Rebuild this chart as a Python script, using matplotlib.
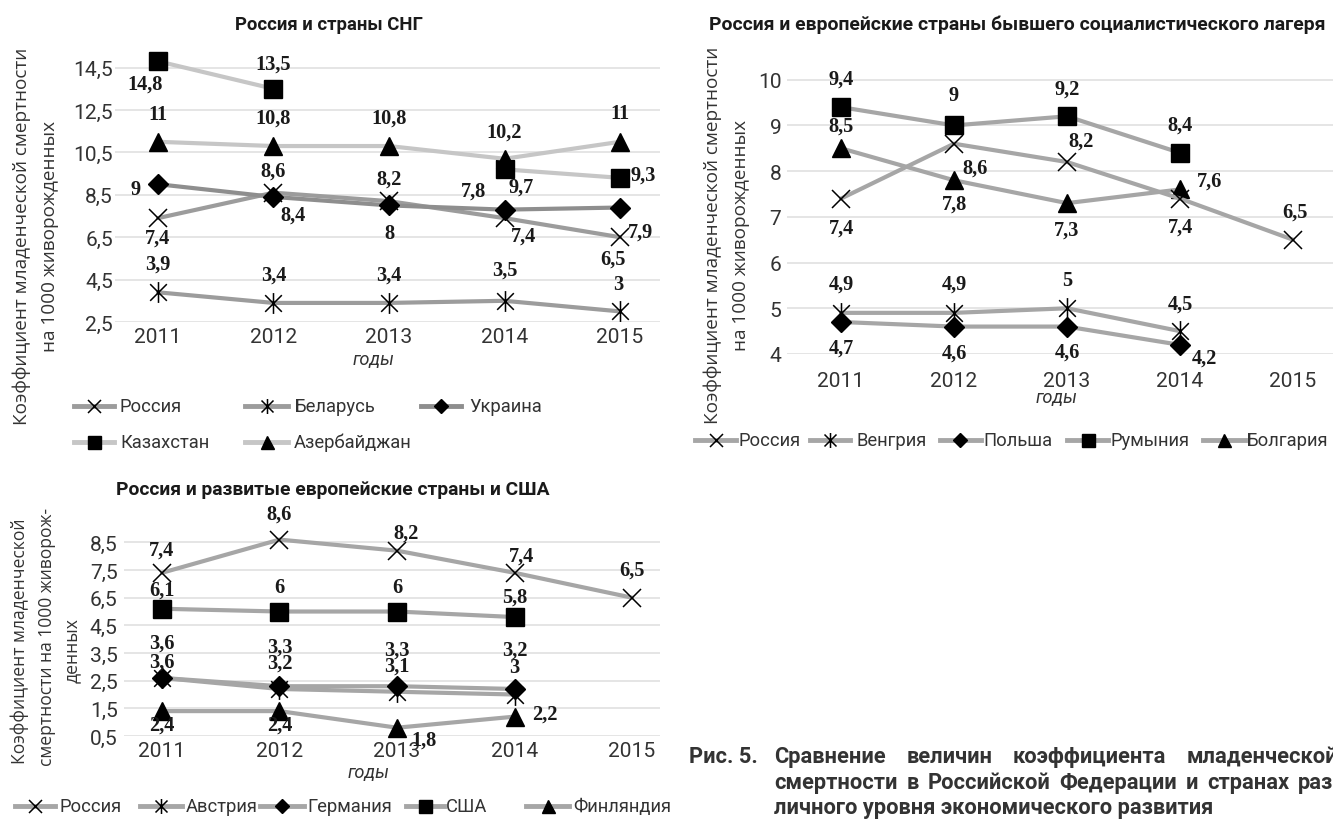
import numpy as np
import matplotlib
matplotlib.use("Agg")
import matplotlib.pyplot as plt
from matplotlib.lines import Line2D
from matplotlib.path import Path
from matplotlib import font_manager as fm

nan = np.nan

# ---------------- data ----------------
years = ['2011', '2012', '2013', '2014', '2015']

# Россия и страны СНГ
cis_russia = [7.4, 8.6, 8.2, 7.4, 6.5]
cis_belarus = [3.9, 3.4, 3.4, 3.5, 3.0]
cis_ukraine = [9.0, 8.4, 8.0, 7.8, 7.9]
cis_kazakhstan = [14.8, 13.5, nan, 9.7, 9.3]
cis_azerbaijan = [11.0, 10.8, 10.8, 10.2, 11.0]

# Россия и европейские страны бывшего социалистического лагеря
ee_russia = [7.4, 8.6, 8.2, 7.4, 6.5]
ee_hungary = [4.9, 4.9, 5.0, 4.5, nan]
ee_poland = [4.7, 4.6, 4.6, 4.2, nan]
ee_romania = [9.4, 9.0, 9.2, 8.4, nan]
ee_bulgaria = [8.5, 7.8, 7.3, 7.6, nan]

# Россия и развитые европейские страны и США
we_russia = [7.4, 8.6, 8.2, 7.4, 6.5]
we_austria = [3.6, 3.2, 3.1, 3.0, nan]
we_germany = [3.6, 3.3, 3.3, 3.2, nan]
we_usa = [6.1, 6.0, 6.0, 5.8, nan]
we_finland = [2.4, 2.4, 1.8, 2.2, nan]

# tick labels of the three value axes
yt1_labels = ['2,5', '4,5', '6,5', '8,5', '10,5', '12,5', '14,5']
yt2_labels = ['4', '5', '6', '7', '8', '9', '10']
yt3_labels = ['0,5', '1,5', '2,5', '3,5', '4,5', '6,5', '7,5', '8,5']

# ---------------- figure & fonts ----------------
W, H = 1333, 820
fig = plt.figure(figsize=(W / 100, H / 100), dpi=100)
fig.patch.set_facecolor('white')


def fam(*names):
    for n in names:
        try:
            fm.findfont(fm.FontProperties(family=n), fallback_to_default=False)
            return n
        except Exception:
            continue
    return 'DejaVu Sans'


SANS = fam('Roboto', 'Open Sans', 'DejaVu Sans')
LABEL_SANS = fam('Open Sans', 'Noto Sans', 'DejaVu Sans')
SERIF = fam('Liberation Serif', 'DejaVu Serif')

renderer = fig.canvas.get_renderer()


def fit_size(s, target, family, weight='normal', style='normal'):
    t = fig.text(0, 0, s, fontsize=10, family=family, weight=weight, style=style)
    w = t.get_window_extent(renderer).width
    t.remove()
    return 10 * target / w


def fx(px):
    return px / W


def fy(py):
    return 1 - py / H


TICK = fit_size('2011', 47, SANS)
LEG = fit_size('Россия', 62, SANS)
DLAB = fit_size('14,8', 35.5, SERIF, 'bold')
XL = fit_size('годы', 42, SANS, style='italic')
YL = fit_size('Коэффициент младенческой смертности', 376, LABEL_SANS)
YL3 = fit_size('Коэффициент младенческой', 245, LABEL_SANS)

# ---------------- markers ----------------
star_path = Path([(-1, -1), (1, 1), (-1, 1), (1, -1), (0, -1.25), (0, 1.25)],
                 [Path.MOVETO, Path.LINETO, Path.MOVETO, Path.LINETO,
                  Path.MOVETO, Path.LINETO])
MK = {
    'x': dict(marker='x', ms=13, mew=1.1),
    'star': dict(marker=star_path, ms=15, mew=1.1),
    'D': dict(marker='D', ms=10.5),
    's': dict(marker='s', ms=13),
    '^': dict(marker='^', ms=13),
}


def mstyle(key, scale=1.0):
    d = dict(MK[key])
    d['ms'] = d['ms'] * scale
    d.update(mfc='black', mec='black')
    return d


def fmt(v):
    return f"{v:g}".replace('.', ',')


def make_axes(box, xlim, ylim, yticks, ylabels, ypad, xpad):
    l, t, r, b = box
    ax = fig.add_axes([fx(l), fy(b), (r - l) / W, (b - t) / H])
    ax.set_xlim(*xlim)
    ax.set_ylim(*ylim)
    for s in ax.spines.values():
        s.set_visible(False)
    ax.set_xticks(range(len(years)))
    ax.set_xticklabels(years)
    ax.set_yticks(yticks)
    ax.set_yticklabels(ylabels)
    ax.tick_params(length=0, labelsize=TICK, labelcolor='#333333')
    ax.tick_params(axis='y', pad=ypad)
    ax.tick_params(axis='x', pad=xpad)
    for lab in ax.get_xticklabels() + ax.get_yticklabels():
        lab.set_family(SANS)
    ax.yaxis.grid(True, color='#e0e0e0', lw=1.2)
    ax.set_axisbelow(True)
    ax.patch.set_alpha(0)
    return ax


def series(ax, vals, key, color, offsets):
    x = np.arange(len(vals))
    y = np.array(vals, dtype=float)
    ax.plot(x, y, color=color, lw=3, solid_capstyle='round', clip_on=False,
            zorder=3, **mstyle(key))
    for i, (v, off) in enumerate(zip(y, offsets)):
        if np.isnan(v) or off is None:
            continue
        ax.annotate(fmt(v), (i, v), xytext=(off[0], -off[1]),
                    textcoords='offset pixels', ha='center', va='center',
                    family=SERIF, weight='bold', fontsize=DLAB,
                    color='#1a1a1a', annotation_clip=False, zorder=5)


def legend_entry(x0, x1, tx, y, key, color, label):
    xs = [fx(x0), fx((x0 + x1) / 2), fx(x1)]
    ln = Line2D(xs, [fy(y)] * 3, transform=fig.transFigure, color=color, lw=3.5,
                markevery=[1], **mstyle(key, 0.72))
    fig.add_artist(ln)
    fig.text(fx(tx), fy(y), label, ha='left', va='center', family=SANS,
             fontsize=LEG, color='#333333')


def ylabel_lines(lines, size):
    for txt, x, y in lines:
        fig.text(fx(x), fy(y), txt, rotation=90, ha='center', va='center',
                 family=LABEL_SANS, fontsize=size, color='#333333')


def title(txt, x, y, width):
    fig.text(fx(x), fy(y), txt, ha='center', va='center', family=SANS,
             weight='bold', fontsize=fit_size(txt, width, SANS, 'bold'),
             color='#1a1a1a')


DARK = '#8e8e8e'
MID = '#9c9c9c'
LIGHT = '#c6c6c6'
GREY = '#a6a6a6'

# ---------------- chart 1: СНГ ----------------
ax1 = make_axes((115, 58, 660, 323), (-0.372, 4.346), (2.5, 15.0),
                [2.5, 4.5, 6.5, 8.5, 10.5, 12.5, 14.5], yt1_labels, 1.5, 3.5)
series(ax1, cis_kazakhstan, 's', LIGHT,
       [(-13, 22), (0, -25), None, (17, 17), (23, -3)])
series(ax1, cis_azerbaijan, '^', LIGHT,
       [(0, -28), (0, -28), (0, -28), (0, -27), (0, -29)])
series(ax1, cis_belarus, 'star', MID,
       [(0, -29), (0, -28), (0, -28), (0, -31), (-2, -27)])
series(ax1, cis_russia, 'x', MID,
       [(0, 19), (0, -22), (0, -23), (19, 17), (-7, 21)])
series(ax1, cis_ukraine, 'D', DARK,
       [(-22, 5), (20, 18), (0, 28), (-31, -19), (20, 24)])

title('Россия и страны СНГ', 329, 25, 188)
fig.text(fx(374), fy(360), 'годы', ha='center', va='center', family=SANS,
         style='italic', fontsize=XL, color='#333333')
ylabel_lines([('Коэффициент младенческой смертности', 22, 236),
              ('на 1000 живорожденных', 50, 236)], YL)
legend_entry(74, 114, 120, 407, 'x', MID, 'Россия')
legend_entry(245, 288, 294, 407, 'star', MID, 'Беларусь')
legend_entry(421, 461, 469, 407, 'D', DARK, 'Украина')
legend_entry(74, 114, 120, 443, 's', LIGHT, 'Казахстан')
legend_entry(245, 288, 294, 443, '^', LIGHT, 'Азербайджан')

# ---------------- chart 2: бывший соцлагерь ----------------
ax2 = make_axes((787, 67, 1333, 355), (-0.478, 4.354), (4.0, 10.3),
                [4, 5, 6, 7, 8, 9, 10], yt2_labels, 4, 12)
series(ax2, ee_romania, 's', GREY, [(0, -29), (0, -30), (0, -28), (0, -28), None])
series(ax2, ee_bulgaria, '^', GREY, [(0, -23), (0, 23), (0, 26), (30, -9), None])
series(ax2, ee_russia, 'x', GREY, [(0, 29), (21, 24), (14, -21), (0, 28), (2, -28)])
series(ax2, ee_hungary, 'star', GREY, [(0, -29), (0, -29), (0, -28), (0, -28), None])
series(ax2, ee_poland, 'D', GREY, [(0, 26), (0, 26), (0, 25), (24, 13), None])

title('Россия и европейские страны бывшего социалистического лагеря', 1017, 25, 617)
fig.text(fx(1057), fy(398), 'годы', ha='center', va='center', family=SANS,
         style='italic', fontsize=XL, color='#333333')
ylabel_lines([('Коэффициент младенческой смертности', 713, 235),
              ('на 1000 живорожденных', 741, 235)], YL)
legend_entry(695, 736, 738, 441, 'x', GREY, 'Россия')
legend_entry(810, 850, 856, 441, 'star', GREY, 'Венгрия')
legend_entry(940, 981, 983, 441, 'D', GREY, 'Польша')
legend_entry(1067, 1108, 1110, 441, 's', GREY, 'Румыния')
legend_entry(1203, 1245, 1247, 441, '^', GREY, 'Болгария')

# ---------------- chart 3: развитые страны ----------------
ax3 = make_axes((124, 524, 660, 737), (-0.323, 4.238), (1.5, 9.2),
                [1.5, 2.5, 3.5, 4.5, 5.5, 6.5, 7.5, 8.5], yt3_labels, 4.5, 3.5)
series(ax3, we_usa, 's', GREY, [(0, -19), (0, -25), (0, -25), (0, -20), None])
series(ax3, we_finland, '^', GREY, [(0, 13), (0, 13), (27, 12), (30, -3), None])
series(ax3, we_austria, 'star', GREY, [(0, -16), (0, -26), (0, -26), (0, -28), None])
series(ax3, we_germany, 'D', GREY, [(0, -35), (0, -40), (0, -37), (0, -39), None])
series(ax3, we_russia, 'x', GREY, [(0, -23), (0, -26), (9, -18), (7, -17), (0, -28)])

title('Россия и развитые европейские страны и США', 333, 490, 434)
fig.text(fx(369), fy(773), 'годы', ha='center', va='center', family=SANS,
         style='italic', fontsize=XL, color='#333333')
ylabel_lines([('Коэффициент младенческой', 20, 641),
              ('смертности на 1000 живорож-', 47, 637),
              ('денных', 72, 651)], YL3)
legend_entry(15, 55, 59, 807, 'x', GREY, 'Россия')
legend_entry(140, 182, 186, 807, 'star', GREY, 'Австрия')
legend_entry(260, 304, 307, 807, 'D', GREY, 'Германия')
legend_entry(406, 444, 446, 807, 's', GREY, 'США')
legend_entry(526, 569, 573, 807, '^', GREY, 'Финляндия')

# ---------------- figure caption (justified) ----------------
CAP = fit_size('личного уровня экономического развития', 441, SANS, 'bold')


def cap_text(s, x, y):
    return fig.text(fx(x), fy(y), s, ha='left', va='center', family=SANS,
                    weight='bold', fontsize=CAP, color='#333333')


def justify(words, x0, x1, y):
    items = [cap_text(w, x0, y) for w in words]
    widths = [t.get_window_extent(renderer).width for t in items]
    gap = (x1 - x0 - sum(widths)) / max(len(words) - 1, 1)
    x = x0
    for t, w in zip(items, widths):
        t.set_position((fx(x), fy(y)))
        x += w + gap


cap_text('Рис. 5.', 689, 757)
justify('Сравнение величин коэффициента младенческой'.split(), 774, 1338, 757)
justify('смертности в Российской Федерации и странах раз'.split(), 774, 1333, 783)
cap_text('личного уровня экономического развития', 774, 808)

fig.savefig('out.png', dpi=100, facecolor='white')
